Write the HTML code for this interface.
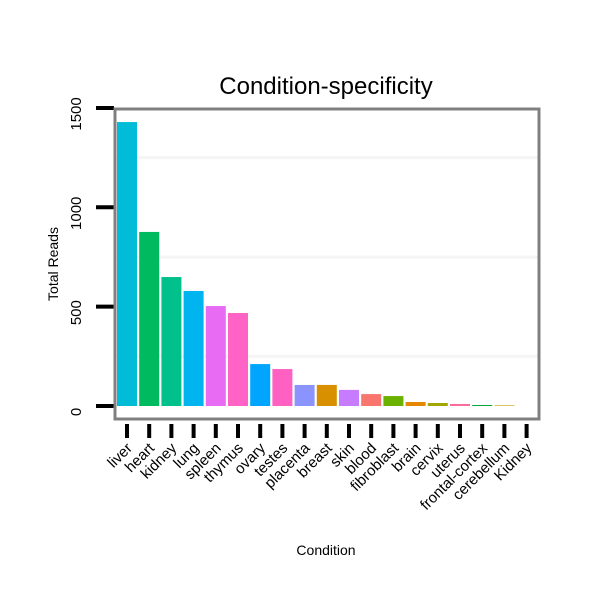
<!DOCTYPE html>
<html><head><meta charset="utf-8"><style>
body{margin:0;background:#fff;font-family:"Liberation Sans",sans-serif;}
</style></head><body>
<svg id="chart" width="600" height="600" xmlns="http://www.w3.org/2000/svg">
<rect width="600" height="600" fill="#fff"/>
<text x="326" y="94" font-size="24" text-anchor="middle" font-family="Liberation Sans, sans-serif">Condition-specificity</text>
<text x="326" y="555" font-size="14" text-anchor="middle" font-family="Liberation Sans, sans-serif">Condition</text>
<text transform="translate(58,264) rotate(-90)" font-size="14" text-anchor="middle" font-family="Liberation Sans, sans-serif">Total Reads</text>
<g id="grid"></g><g id="bars"></g><g id="axes"></g>
<rect x="115" y="109" width="424" height="310" fill="none" stroke="#808080" stroke-width="3"/>
</svg>
<script>
const categories=["liver","heart","kidney","lung","spleen","thymus","ovary","testes","placenta","breast","skin","blood","fibroblast","brain","cervix","uterus","frontal-cortex","cerebellum","Kidney"];
const values=[1429,876,649,579,503,468,211,186,106,106,81,60,50,20,15,10,5,3,0];
const colors=["#00BCD6","#00BA5F","#00C08B","#00B4EF","#E76BF3","#FF63C6","#00A5FF","#FF61C3","#8B93FF","#D89000","#C77CFF","#F8766D","#6BB100","#E58700","#A3A500","#FF6A98","#00A83A","#C09B00","#9590FF"];
const yTicks=[0,500,1000,1500];
const yMinor=[250,750,1250];
const ns="http://www.w3.org/2000/svg";
const y=v=>406-v*0.1987;
const x=i=>127+i*22.2;
function mk(t,a,p){const e=document.createElementNS(ns,t);for(const k in a)e.setAttribute(k,a[k]);p.appendChild(e);return e;}
const grid=document.getElementById('grid'),bars=document.getElementById('bars'),axes=document.getElementById('axes');
yMinor.forEach(v=>{const l=mk('line',{x1:116,x2:538,y1:y(v),y2:y(v),stroke:'#f5f5f5','stroke-width':3},grid);

});
categories.forEach((c,i)=>{
 const h=values[i]*0.1987;
 const r=mk('rect',{x:x(i)-10,y:y(values[i]),width:20,height:h,fill:colors[i]},bars);
 
 
 const t=mk('line',{x1:x(i),x2:x(i),y1:424,y2:438,stroke:'#000','stroke-width':4},axes);
 
 
 const tx=mk('text',{transform:`translate(${x(i)+6},${449}) rotate(-45)`,'font-size':15,'text-anchor':'end','font-family':'Liberation Sans, sans-serif'},axes);
 tx.textContent=c;
 
 
});
yTicks.forEach(v=>{
 const t=mk('line',{x1:96,x2:114,y1:y(v),y2:y(v),stroke:'#000','stroke-width':4},axes);
 
 
 const tx=mk('text',{transform:`translate(81,${y(v)+6}) rotate(-90)`,'font-size':15,'text-anchor':'middle','font-family':'Liberation Sans, sans-serif'},axes);
 tx.textContent=v;
 
 
});
</script>
</body></html>
